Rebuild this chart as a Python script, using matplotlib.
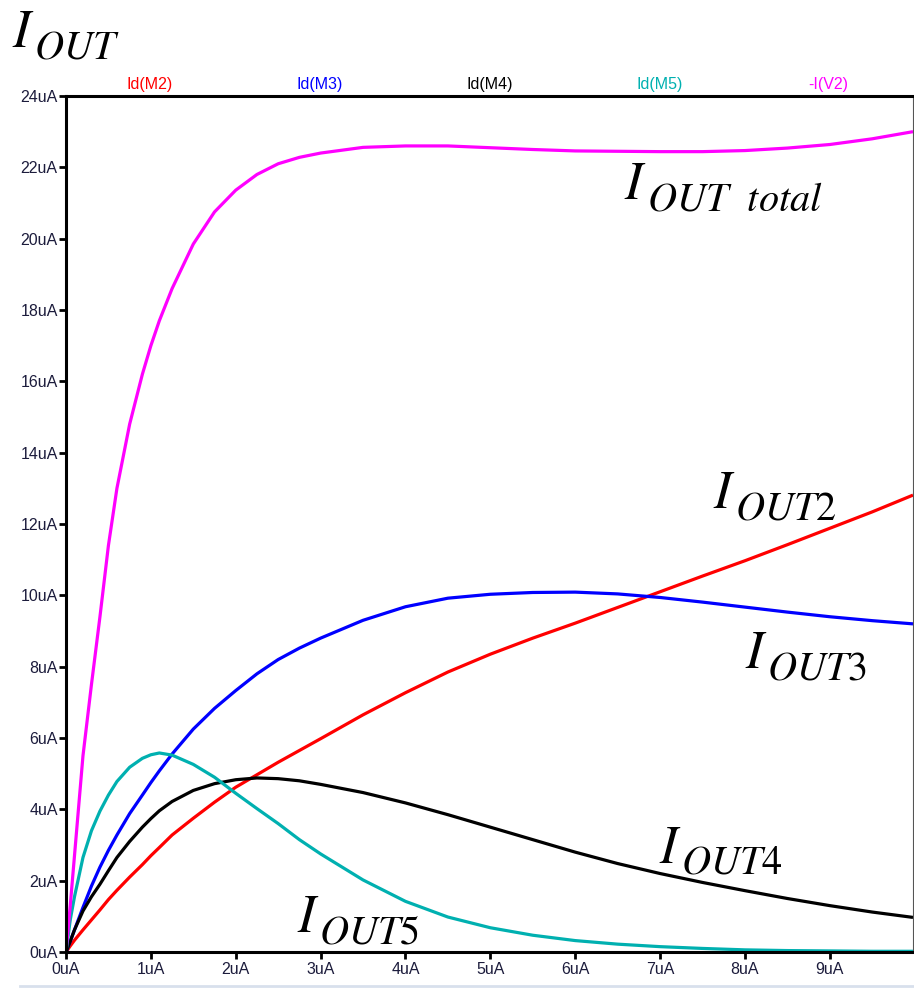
import matplotlib
matplotlib.use("Agg")
import matplotlib.pyplot as plt
from matplotlib.lines import Line2D

# sweep values (uA) shared by all traces
x_ua = [0, 0.05, 0.1, 0.2, 0.3, 0.4, 0.5, 0.6, 0.75, 0.9,
        1.0, 1.1, 1.25, 1.5, 1.75, 2.0, 2.25, 2.5, 2.75, 3.0,
        3.5, 4.0, 4.5, 5.0, 5.5, 6.0, 6.5, 7.0, 7.5, 8.0,
        8.5, 9.0, 9.5, 9.98]

# drain currents (uA)
id_m2 = [0, 0.17, 0.33, 0.62, 0.9, 1.18, 1.47, 1.73, 2.1, 2.45,
         2.7, 2.93, 3.28, 3.75, 4.2, 4.62, 4.97, 5.32, 5.65, 5.98,
         6.65, 7.27, 7.85, 8.35, 8.8, 9.22, 9.66, 10.1, 10.54, 10.97,
         11.42, 11.88, 12.34, 12.81]
id_m3 = [0, 0.3, 0.62, 1.25, 1.85, 2.38, 2.85, 3.28, 3.88, 4.4,
         4.75, 5.08, 5.55, 6.25, 6.83, 7.33, 7.8, 8.2, 8.52, 8.8,
         9.3, 9.68, 9.92, 10.03, 10.08, 10.09, 10.04, 9.94, 9.81, 9.67,
         9.53, 9.4, 9.29, 9.2]
id_m4 = [0, 0.3, 0.62, 1.15, 1.55, 1.9, 2.28, 2.65, 3.1, 3.5,
         3.74, 3.96, 4.22, 4.53, 4.72, 4.83, 4.88, 4.86, 4.8, 4.7,
         4.47, 4.18, 3.85, 3.5, 3.15, 2.8, 2.48, 2.2, 1.95, 1.72,
         1.5, 1.3, 1.12, 0.97]
id_m5 = [0, 0.9, 1.55, 2.65, 3.4, 3.95, 4.4, 4.78, 5.18, 5.43,
         5.53, 5.58, 5.52, 5.26, 4.9, 4.45, 4.02, 3.6, 3.15, 2.75,
         2.02, 1.42, 0.98, 0.68, 0.47, 0.32, 0.22, 0.15, 0.1, 0.06,
         0.04, 0.03, 0.02, 0.02]
i_v2 = [0, 1.3, 2.7, 5.5, 7.5, 9.4, 11.4, 13.0, 14.8, 16.2,
        17.0, 17.7, 18.6, 19.85, 20.75, 21.36, 21.8, 22.1, 22.28, 22.4,
        22.56, 22.6, 22.6, 22.55, 22.5, 22.46, 22.45, 22.44, 22.44, 22.47,
        22.54, 22.64, 22.8, 23.0]

trace_names = ["Id(M2)", "Id(M3)", "Id(M4)", "Id(M5)", "-I(V2)"]
trace_colors = ["#ff0000", "#0000ff", "#000000", "#00b0b0", "#ff00ff"]
traces = [id_m2, id_m3, id_m4, id_m5, i_v2]

x_ticks = list(range(0, 10))
y_ticks = list(range(0, 25, 2))

plt.rcParams["mathtext.fontset"] = "stix"
plt.rcParams["font.family"] = ["Liberation Sans", "DejaVu Sans"]

W, H = 914, 990
fig = plt.figure(figsize=(W / 100, H / 100), dpi=100)
ax = fig.add_axes([66 / W, (H - 952) / H, (913 - 66) / W, (952 - 96) / H])

for vals, col in zip(traces, trace_colors):
    ax.plot(x_ua, vals, color=col, lw=2.3, solid_capstyle="butt")

ax.set_xlim(0, 9.98)
ax.set_ylim(0, 24)
ax.set_xticks(x_ticks)
ax.set_xticklabels([f"{t}uA" for t in x_ticks])
ax.set_yticks(y_ticks)
ax.set_yticklabels([f"{t}uA" for t in y_ticks])
ax.tick_params(axis="both", direction="out", length=5, width=2,
               labelsize=11.5, labelcolor="#1c1c3c")
ax.tick_params(axis="x", pad=2.5)
ax.tick_params(axis="y", pad=1)

for side in ["left", "bottom", "top"]:
    ax.spines[side].set_linewidth(2.2)
ax.spines["right"].set_linewidth(0.8)
ax.spines["right"].set_color("#555555")

# trace names across the top, LTspice style
name_x = [150, 320, 490, 660, 828]
for name, col, px in zip(trace_names, trace_colors, name_x):
    fig.text(px / W, 1 - 85 / H, name, color=col, fontsize=11.5,
             ha="center", va="center")


def i_label(x, y, sub, trans):
    # big italic I with a larger-than-default subscript
    ax.text(x, y, r"$I$", fontsize=38, ha="left", va="baseline",
            transform=trans, clip_on=False)
    ax.annotate(sub, xy=(x, y), xycoords=trans, xytext=(16, -8),
                textcoords="offset points", fontsize=29, ha="left",
                va="baseline", annotation_clip=False)


i_label(6.58, 21.1, r"$OUT\ \ total$", ax.transData)
i_label(7.62, 12.45, r"$OUT2$", ax.transData)
i_label(8.0, 7.95, r"$OUT3$", ax.transData)
i_label(6.99, 2.5, r"$OUT4$", ax.transData)
i_label(2.72, 0.55, r"$OUT5$", ax.transData)
i_label(12 / W, 1 - 47 / H, r"$OUT$", fig.transFigure)

# window edge under the plot
fig.add_artist(Line2D([20 / W, 1], [1 - 986 / H, 1 - 986 / H],
                      color="#d8e0ec", lw=2, transform=fig.transFigure))

fig.savefig("out.png", dpi=100)
